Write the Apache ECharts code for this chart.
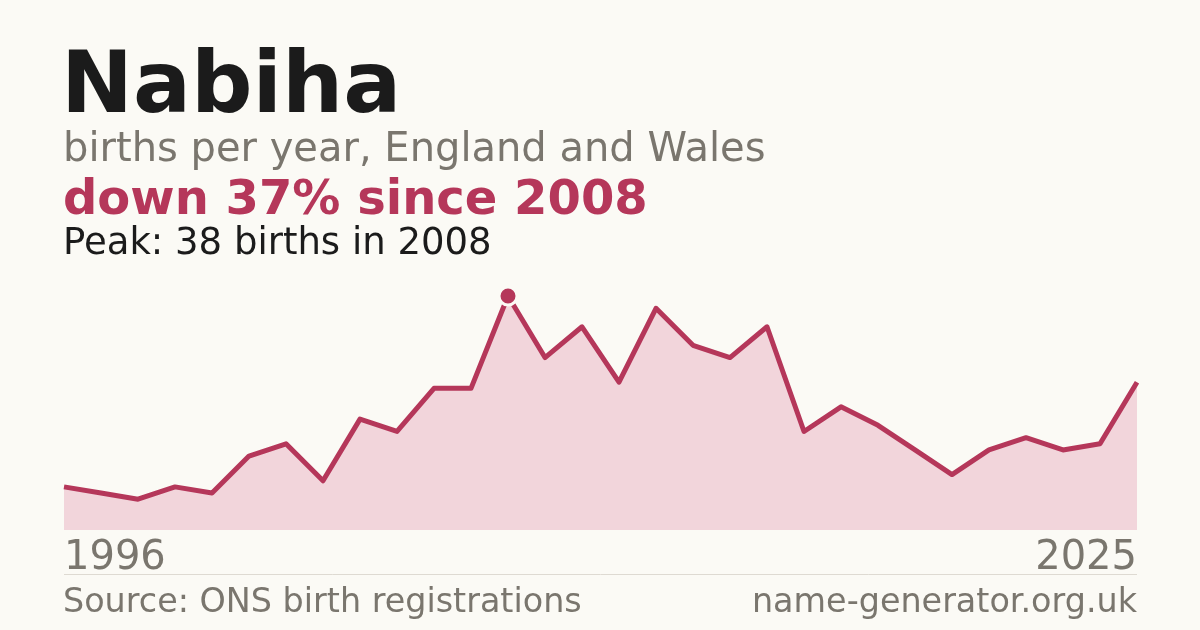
<!DOCTYPE html>
<html lang="en">
<head>
  <meta charset="UTF-8">
  <title>Nabiha</title>
  <script src="https://cdn.jsdelivr.net/npm/echarts@6/dist/echarts.min.js"></script>
  <style>
    html, body {
      margin: 0;
      padding: 0;
      background-color: #fbfaf5;
    }

    #chart {
      width: 1200px;
      height: 630px;
    }
  </style>
</head>
<body>
  <div id="chart"></div>
  <script>
    var years = ['1996', '1997', '1998', '1999', '2000', '2001', '2002', '2003', '2004', '2005',
      '2006', '2007', '2008', '2009', '2010', '2011', '2012', '2013', '2014', '2015',
      '2016', '2017', '2018', '2019', '2020', '2021', '2022', '2023', '2024', '2025']
    var births = [7, 6, 5, 7, 6, 12, 14, 8, 18, 16,
      23, 23, 38, 28, 33, 24, 36, 30, 28, 33,
      16, 20, 17, 13, 9, 13, 15, 13, 14, 24]

    var texts = {
      name: 'Nabiha',
      sub: 'births per year, England and Wales',
      change: 'down 37% since 2008',
      peak: 'Peak: 38 births in 2008',
      source: 'Source: ONS birth registrations',
      site: 'name-generator.org.uk'
    }

    ;(function (echarts) {
      var font = '"DejaVu Sans", sans-serif'
      var red = '#b5375a'
      var grey = '#7a766e'

      var chart = echarts.init(document.getElementById('chart'))

      function label (text, x, y, size, color, weight, align) {
        return {
          type: 'text',
          x: x,
          y: y,
          style: {
            text: text,
            fill: color,
            font: (weight || 'normal') + ' ' + size + 'px ' + font,
            align: align || 'left',
            verticalAlign: 'bottom'
          }
        }
      }

      chart.setOption({
        backgroundColor: '#fbfaf5',
        animation: false,
        grid: {
          left: 64,
          right: 63,
          top: 296,
          bottom: 100
        },
        xAxis: {
          type: 'category',
          data: years,
          boundaryGap: false,
          axisLine: { show: false },
          axisTick: { show: false },
          splitLine: { show: false },
          axisLabel: {
            interval: function (i) {
              return i === 0 || i === years.length - 1
            },
            alignMinLabel: 'left',
            alignMaxLabel: 'right',
            margin: 9,
            fontFamily: font,
            fontSize: 40,
            color: grey
          }
        },
        yAxis: {
          type: 'value',
          min: 0,
          max: 38,
          show: false,
          splitLine: { show: false }
        },
        series: [
          {
            type: 'line',
            data: births,
            clip: false,
            symbol: 'none',
            lineStyle: { color: red, width: 5, join: 'round' },
            areaStyle: { color: '#f2d5db', opacity: 1 },
            markPoint: {
              symbol: 'circle',
              symbolSize: 18,
              label: { show: false },
              itemStyle: { color: red, borderColor: '#fbfaf5', borderWidth: 3 },
              data: [{ type: 'max' }]
            }
          }
        ],
        graphic: [
          label(texts.name, 61, 133, 86, '#1b1b1b', 'bold'),
          label(texts.sub, 63, 171, 40, grey),
          label(texts.change, 63, 226, 48, red, 'bold'),
          label(texts.peak, 63, 263, 37, '#1b1b1b'),
          label(texts.source, 63, 620, 33.4, grey),
          label(texts.site, 1137, 620, 33.4, grey, 'normal', 'right'),
          {
            type: 'line',
            shape: { x1: 64, y1: 574.5, x2: 1137, y2: 574.5 },
            style: { stroke: '#dedad2', lineWidth: 1 }
          }
        ]
      })
    })(window.echarts)
  </script>
</body>
</html>
